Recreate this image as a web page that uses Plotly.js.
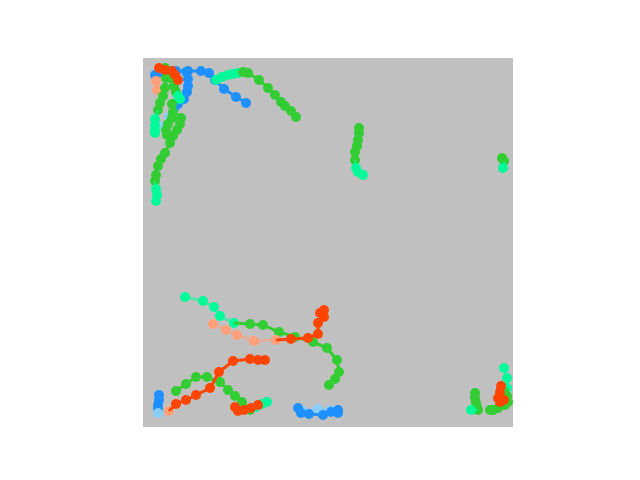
<!DOCTYPE html>
<html>
<head>
<meta charset="utf-8">
<script src="https://cdn.plot.ly/plotly-3.0.1.min.js"></script>
<style>html,body{margin:0;padding:0;background:#fff;}#chart{width:640px;height:480px;}</style>
</head>
<body>
<div id="chart"></div>
<script>
// Colour codes used by the tracks
const colorNames = {R:'#ff4500', S:'#ffa07a', B:'#1e90ff', K:'#87cefa', G:'#32cd32', P:'#00fa9a'};
const lineAlpha = {R:1, S:0.55, B:1, K:0.7, G:1, P:0.55};

// Track data (x, y, colour code per point)
const trackK_x = [160,175,188];
const trackK_y = [353,351,352];
const trackK_c = ['K','K','K'];

const trackO_x = [155,158,166,180,188,195,195];
const trackO_y = [350,355,356,357,354,352,355];
const trackO_c = ['B','B','B','B','B','B','B'];

const trackN_x = [16,16,15,15,15];
const trackN_y = [337,342,347,351,355];
const trackN_c = ['B','B','B','B','K'];

const trackB_x = [12,20,33,45,58,66,72,81,93,103];
const trackB_y = [17,15,13,13,13,15,22,31,39,45];
const trackB_c = ['B','B','B','B','B','B','B','B','B','B'];

const trackC_x = [43,45,45,44,41,35,32,26,21];
const trackC_y = [14,21,28,34,41,46,49,59,68];
const trackC_c = ['B','B','B','B','B','B','B','K','K'];

const trackS1_x = [13,14];
const trackS1_y = [23,32];
const trackS1_c = ['S','S'];

const trackA_x = [73,79,85,90,95,100,105,116,125,132,138,142,148,153];
const trackA_y = [22,19,17,16,15,14,15,22,30,37,44,48,53,59];
const trackA_c = ['P','P','P','P','P','G','G','G','G','G','G','G','G','G'];

const trackD_x = [23,22,20,17,15,12,12,12,12];
const trackD_y = [20,30,38,45,52,61,67,72,75];
const trackD_c = ['G','G','G','G','G','P','P','P','P'];

const trackF_x = [22,27,31,33,35,37];
const trackF_y = [10,20,28,34,38,41];
const trackF_c = ['G','G','G','G','P','P'];

const trackF2_x = [29,30,29,25,23,24];
const trackF2_y = [46,54,60,66,72,77];
const trackF2_c = ['G','G','G','G','G','G'];

const trackE_x = [38,37,34,30,27,22,18,15,13,12,13,14,13];
const trackE_y = [60,66,72,78,85,95,101,108,117,123,131,137,143];
const trackE_c = ['G','G','G','G','G','G','G','G','G','G','P','P','P'];

const trackR1_x = [16,22,29,32,35];
const trackR1_y = [10,12,13,17,22];
const trackR1_c = ['R','R','R','R','R'];

const trackG_x = [216,216,215,214,212,212,213,215,220];
const trackG_y = [70,75,82,88,94,102,110,114,117];
const trackG_c = ['G','G','G','G','G','G','P','P','P'];

const trackH_x = [359,361,360];
const trackH_y = [100,103,110];
const trackH_c = ['G','G','P'];

const trackI_x = [42,60,71,77,91,107,120,136,152,170,184,194,196,192,186];
const trackI_y = [239,243,249,258,265,266,267,274,279,284,290,302,314,321,327];
const trackI_c = ['P','P','P','P','P','G','G','G','G','G','G','G','G','G','G'];

const trackJ_x = [70,83,94,111,133,148,165,175,175,181,177,181];
const trackJ_y = [266,272,277,283,282,281,280,276,265,259,255,252];
const trackJ_c = ['S','S','S','S','S','R','R','R','R','R','R','R'];

const trackL_x = [33,43,53,64,77,85,92,99,107,113,119,124];
const trackL_y = [333,326,319,319,324,332,338,344,352,349,346,344];
const trackL_c = ['G','G','G','G','G','G','G','G','G','P','P','P'];

const trackK2_x = [26,33,43,53,67,76,90,107,115,122];
const trackK2_y = [353,346,342,337,330,314,303,301,302,302];
const trackK2_c = ['S','R','R','R','R','R','R','R','R','R'];

const trackM_x = [92,95,101,108,115];
const trackM_y = [349,353,352,350,347];
const trackM_c = ['R','R','R','R','R'];

const trackQ1_x = [361,364,364,364,365,362,355,350,347];
const trackQ1_y = [310,320,330,338,344,347,350,352,352];
const trackQ1_c = ['P','P','P','G','G','G','G','G','G'];

const trackQ2_x = [332,332,333,334,335,328];
const trackQ2_y = [335,340,345,349,352,352];
const trackQ2_c = ['G','G','G','G','G','P'];

const trackQ3_x = [358,357,355,357,361];
const trackQ3_y = [328,334,340,344,342];
const trackQ3_c = ['R','R','R','R','R'];

const tracks = [
  [trackK_x, trackK_y, trackK_c],
  [trackO_x, trackO_y, trackO_c],
  [trackN_x, trackN_y, trackN_c],
  [trackB_x, trackB_y, trackB_c],
  [trackC_x, trackC_y, trackC_c],
  [trackS1_x, trackS1_y, trackS1_c],
  [trackA_x, trackA_y, trackA_c],
  [trackD_x, trackD_y, trackD_c],
  [trackF_x, trackF_y, trackF_c],
  [trackF2_x, trackF2_y, trackF2_c],
  [trackE_x, trackE_y, trackE_c],
  [trackR1_x, trackR1_y, trackR1_c],
  [trackG_x, trackG_y, trackG_c],
  [trackH_x, trackH_y, trackH_c],
  [trackI_x, trackI_y, trackI_c],
  [trackJ_x, trackJ_y, trackJ_c],
  [trackL_x, trackL_y, trackL_c],
  [trackK2_x, trackK2_y, trackK2_c],
  [trackM_x, trackM_y, trackM_c],
  [trackQ2_x, trackQ2_y, trackQ2_c],
  [trackQ1_x, trackQ1_y, trackQ1_c],
  [trackQ3_x, trackQ3_y, trackQ3_c]
];

function hexToRgba(hex, a){
  const n = parseInt(hex.slice(1),16);
  return 'rgba(' + ((n>>16)&255) + ',' + ((n>>8)&255) + ',' + (n&255) + ',' + a + ')';
}

const traces = [];
tracks.forEach(function(t){
  const xs = t[0], ys = t[1], cs = t[2];
  let s = 0;
  while (s < xs.length){
    let e = s;
    while (e+1 < xs.length && cs[e+1] === cs[s]) e++;
    const code = cs[s];
    const lx = (s>0 ? [xs[s-1]] : []).concat(xs.slice(s, e+1));
    const ly = (s>0 ? [ys[s-1]] : []).concat(ys.slice(s, e+1));
    if (lx.length > 1){
      traces.push({x: lx, y: ly, type:'scatter', mode:'lines', hoverinfo:'skip',
        line:{color: hexToRgba(colorNames[code], lineAlpha[code]), width:3}});
    }
    traces.push({x: xs.slice(s, e+1), y: ys.slice(s, e+1), type:'scatter', mode:'markers', hoverinfo:'skip',
      marker:{color: colorNames[code], size:10, line:{width:0}}});
    s = e+1;
  }
});

const ax = {showgrid:false, zeroline:false, showticklabels:false, ticks:'', showline:false, fixedrange:true};
const layout = {
  width:640, height:480,
  margin:{l:143, r:127, t:58, b:53, pad:0},
  paper_bgcolor:'#ffffff', plot_bgcolor:'#c0c0c0',
  showlegend:false,
  xaxis: Object.assign({range:[0,370]}, ax),
  yaxis: Object.assign({range:[369,0]}, ax)
};
Plotly.newPlot('chart', traces, layout, {staticPlot:true, displayModeBar:false});
</script>
</body>
</html>
